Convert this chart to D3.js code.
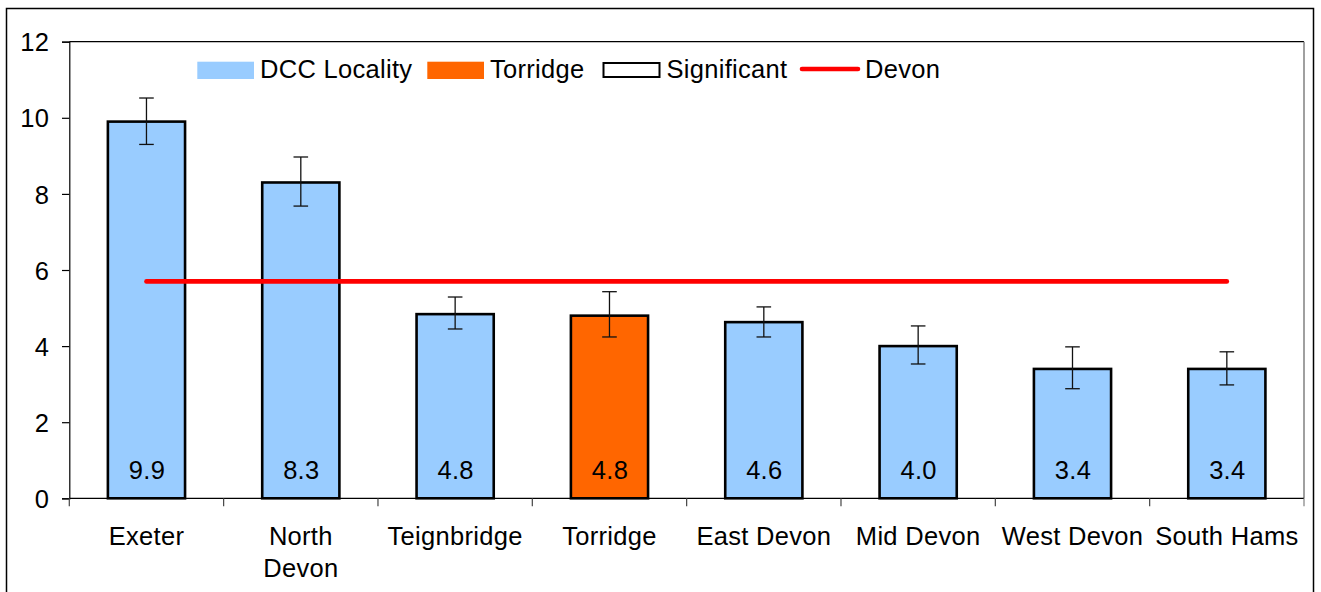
<!DOCTYPE html>
<html>
<head>
<meta charset="utf-8">
<script src="https://cdn.jsdelivr.net/npm/d3@7"></script>
<style>
  html, body { margin: 0; padding: 0; background: #fff; }
  svg { display: block; }
  text { font-family: "Liberation Sans", Arial, sans-serif; font-size: 25.5px; letter-spacing: 0.3px; fill: #000; }
</style>
</head>
<body>
<svg id="chart" width="1321" height="592"></svg>
<script>
// ---- data ----
const categories = ["Exeter", "North Devon", "Teignbridge", "Torridge", "East Devon", "Mid Devon", "West Devon", "South Hams"];
const tickLabels = ["Exeter", "North|Devon", "Teignbridge", "Torridge", "East Devon", "Mid Devon", "West Devon", "South Hams"];
const values = [9.9, 8.3, 4.84, 4.8, 4.63, 4.0, 3.4, 3.4];
const lowerCI = [9.3, 7.68, 4.45, 4.24, 4.24, 3.53, 2.88, 2.98];
const upperCI = [10.52, 8.97, 5.29, 5.43, 5.03, 4.53, 3.98, 3.85];
const highlight = "Torridge";
const devonValue = 5.7;
const yTicks = [0, 2, 4, 6, 8, 10, 12];
const legendItems = ["DCC Locality", "Torridge", "Significant", "Devon"];

// ---- layout ----
const svg = d3.select("#chart");
const pL = 69.3, pR = 1304, pT = 41.7, pB = 498.3;
const x = d3.scaleBand().domain(categories).range([pL, pR]).padding(0);
const y = d3.scaleLinear().domain([0, 12]).range([pB, pT]);
const blue = "#99CCFF", orange = "#FF6600", red = "#FF0000";

// outer border
svg.append("rect").attr("x", 6.5).attr("y", 8.5).attr("width", 1307).attr("height", 640)
  .attr("fill", "none").attr("stroke", "#000").attr("stroke-width", 1.5);

// plot area frame: top black, right grey
svg.append("line").attr("x1", pL).attr("x2", pR).attr("y1", pT).attr("y2", pT)
  .attr("stroke", "#000").attr("stroke-width", 1.2);
svg.append("line").attr("x1", pR).attr("x2", pR).attr("y1", pT).attr("y2", pB)
  .attr("stroke", "#808080").attr("stroke-width", 1.5);

// y axis
const yAxis = d3.axisLeft(y).tickValues(yTicks).tickSize(7.3).tickPadding(13).tickFormat(d3.format("d"));
const gy = svg.append("g").attr("transform", `translate(${pL},0)`).call(yAxis);
gy.attr("font-size", null).attr("font-family", null);
gy.select(".domain").attr("stroke", "#000").attr("stroke-width", 1.2);
gy.selectAll(".tick line").attr("stroke", "#000").attr("stroke-width", 1.2);
gy.selectAll(".tick text").attr("dy", "0.36em").attr("x", -20);

// x axis line + boundary ticks
svg.append("line").attr("x1", pL).attr("x2", pR).attr("y1", pB).attr("y2", pB)
  .attr("stroke", "#000").attr("stroke-width", 1.2);
const bounds = categories.map(c => x(c)).concat([pR]);
svg.append("g").selectAll("line").data(bounds).join("line")
  .attr("x1", d => d).attr("x2", d => d).attr("y1", pB).attr("y2", pB + 8)
  .attr("stroke", (d, i) => i === bounds.length - 1 ? "#808080" : "#444").attr("stroke-width", 1.2);

// category labels
const cats = svg.append("g").selectAll("text").data(categories).join("text")
  .attr("text-anchor", "middle")
  .attr("x", d => x(d) + x.bandwidth() / 2)
  .attr("y", 545);
cats.each(function (d, i) {
  const lines = tickLabels[i].split("|");
  const t = d3.select(this);
  lines.forEach((ln, j) => {
    t.append("tspan").attr("x", x(d) + x.bandwidth() / 2).attr("dy", j === 0 ? 0 : 32).text(ln);
  });
});

// bars
const bw = x.bandwidth() * 0.5;
svg.append("g").selectAll("rect").data(categories).join("rect")
  .attr("x", d => x(d) + (x.bandwidth() - bw) / 2)
  .attr("width", bw)
  .attr("y", (d, i) => y(values[i]))
  .attr("height", (d, i) => y(0) - y(values[i]))
  .attr("fill", d => d === highlight ? orange : blue)
  .attr("stroke", "#000").attr("stroke-width", 2.6);

// value labels
svg.append("g").selectAll("text").data(categories).join("text")
  .attr("text-anchor", "middle")
  .attr("x", d => x(d) + x.bandwidth() / 2 + 0.5)
  .attr("y", 479)
  .text((d, i) => d3.format(".1f")(values[i]));

// error bars
const eb = svg.append("g").attr("stroke", "#111").attr("stroke-width", 1.3);
categories.forEach((c, i) => {
  const cx = x(c) + x.bandwidth() / 2;
  eb.append("line").attr("x1", cx).attr("x2", cx).attr("y1", y(upperCI[i])).attr("y2", y(lowerCI[i]));
  eb.append("line").attr("x1", cx - 7.3).attr("x2", cx + 7.3).attr("y1", y(upperCI[i])).attr("y2", y(upperCI[i]));
  eb.append("line").attr("x1", cx - 7.3).attr("x2", cx + 7.3).attr("y1", y(lowerCI[i])).attr("y2", y(lowerCI[i]));
});

// Devon average line
const first = categories[0], last = categories[categories.length - 1];
svg.append("line")
  .attr("x1", x(first) + x.bandwidth() / 2).attr("x2", x(last) + x.bandwidth() / 2)
  .attr("y1", y(devonValue)).attr("y2", y(devonValue))
  .attr("stroke", red).attr("stroke-width", 4.6).attr("stroke-linecap", "round");

// legend
const lg = svg.append("g");
lg.append("rect").attr("x", 197.3).attr("y", 61.7).attr("width", 56.7).attr("height", 17.3).attr("fill", blue);
lg.append("text").attr("x", 260).attr("y", 78).text(legendItems[0]);
lg.append("rect").attr("x", 427.3).attr("y", 61.7).attr("width", 56.7).attr("height", 17.3).attr("fill", orange);
lg.append("text").attr("x", 490).attr("y", 78).text(legendItems[1]);
lg.append("rect").attr("x", 603.5).attr("y", 63).attr("width", 56).attr("height", 14).attr("fill", "#fff")
  .attr("stroke", "#000").attr("stroke-width", 2);
lg.append("text").attr("x", 666.5).attr("y", 78).text(legendItems[2]);
lg.append("line").attr("x1", 802).attr("x2", 858).attr("y1", 69).attr("y2", 69)
  .attr("stroke", red).attr("stroke-width", 4.6).attr("stroke-linecap", "round");
lg.append("text").attr("x", 865).attr("y", 78).text(legendItems[3]);
</script>
</body>
</html>
